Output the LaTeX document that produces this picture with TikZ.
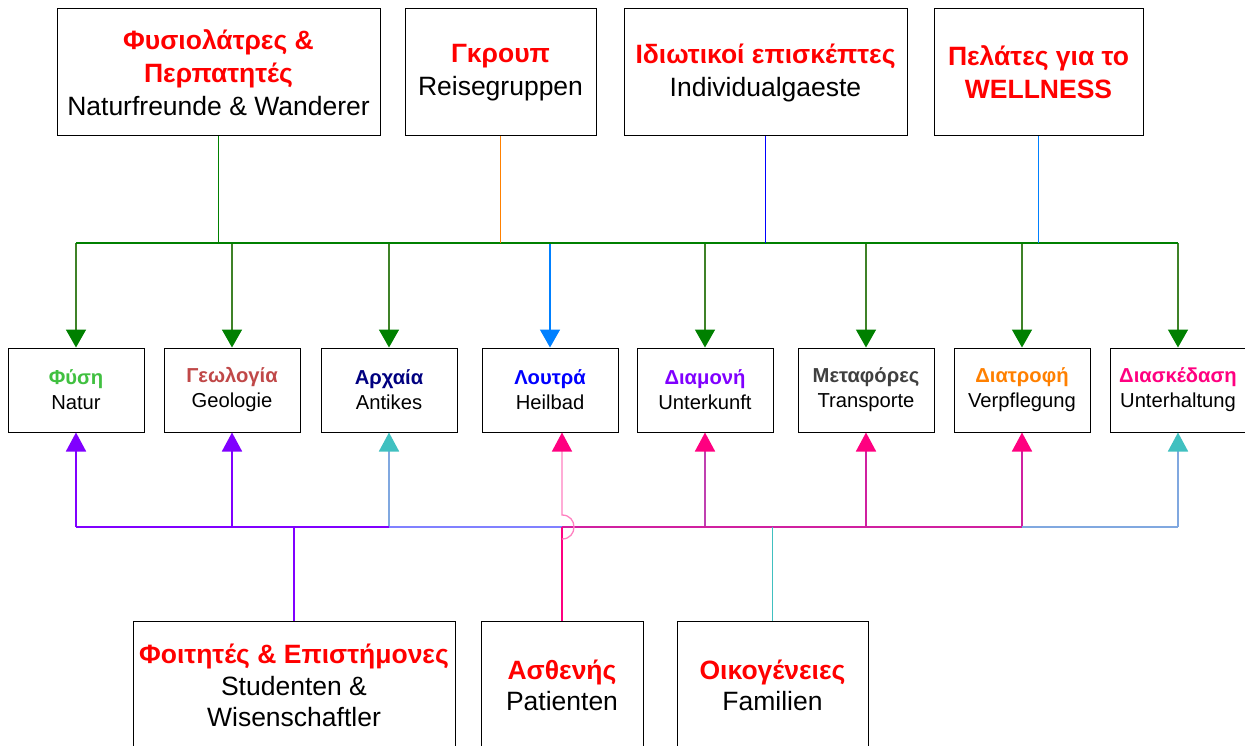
\documentclass[tikz,border=0pt]{standalone}
\usepackage{fontspec}
\setmainfont{Liberation Sans}
\usetikzlibrary{arrows.meta,calc}
\definecolor{cgreen}{HTML}{008000}
\definecolor{colive}{HTML}{3F8228}
\definecolor{corange}{HTML}{FF8000}
\definecolor{cblue}{HTML}{0000FF}
\definecolor{cazure}{HTML}{0080FF}
\definecolor{cred}{HTML}{FF0000}
\definecolor{cpurple}{HTML}{8000FF}
\definecolor{cpink}{HTML}{FF0080}
\definecolor{clpink}{HTML}{FF80C0}
\definecolor{cmag}{HTML}{D020A0}
\definecolor{cmauve}{HTML}{C040B0}
\definecolor{ccyan}{HTML}{40C0C0}
\definecolor{clav}{HTML}{8080FF}
\definecolor{clblue}{HTML}{80A8E0}
\definecolor{cnatur}{HTML}{40C040}
\definecolor{cgeo}{HTML}{C04848}
\definecolor{cnavy}{HTML}{000080}
\definecolor{cgrey}{HTML}{404040}
\begin{document}
\begin{tikzpicture}[x=1pt,y=-1pt,
  box/.style={draw=black, line width=1pt, fill=white, align=center, inner sep=0pt},
  topbox/.style={box, minimum height=127pt, font=\fontsize{26.5}{33}\selectfont},
  midbox/.style={box, minimum width=136pt, minimum height=84pt, font=\fontsize{20.2}{25}\selectfont},
  botbox/.style={box, minimum height=129pt, font=\fontsize{26.5}{31.5}\selectfont},
  conn/.style={line width=1.7pt},
  bus/.style={line width=2.1pt},
  downtip/.style={-{Triangle[width=20pt,length=18pt,color=#1]}},
  uptip/.style={-{Triangle[width=20pt,length=19pt,color=#1]}}
]
\useasboundingbox (0,0) rectangle (1245,746);

% top boxes
\node[topbox, minimum width=323pt] (t1) at (218.5,72.5)
  {\textcolor{cred}{\bfseries Φυσιολάτρες \&}\\\textcolor{cred}{\bfseries Περπατητές}\\Naturfreunde \& Wanderer};
\node[topbox, minimum width=191pt] (t2) at (500.5,72.5)
  {\textcolor{cred}{\bfseries Γκρουπ}\\Reisegruppen};
\node[topbox, minimum width=283pt] (t3) at (765.5,72.5)
  {\textcolor{cred}{\bfseries Ιδιωτικοί επισκέπτες}\\Individualgaeste};
\node[topbox, minimum width=209pt] (t4) at (1038.5,72.5)
  {\textcolor{cred}{\bfseries Πελάτες για το}\\\textcolor{cred}{\bfseries WELLNESS}};

% middle boxes
\node[midbox] (m1) at (76,390) {\textcolor{cnatur}{\bfseries Φύση}\\Natur};
\node[midbox] (m2) at (232,390) {\textcolor{cgeo}{\bfseries Γεωλογία}\\Geologie};
\node[midbox] (m3) at (389,390) {\textcolor{cnavy}{\bfseries Αρχαία}\\Antikes};
\node[midbox] (m4) at (550,390) {\textcolor{cblue}{\bfseries Λουτρά}\\Heilbad};
\node[midbox] (m5) at (705,390) {\textcolor{cpurple}{\bfseries Διαμονή}\\Unterkunft};
\node[midbox] (m6) at (866,390) {\textcolor{cgrey}{\bfseries Μεταφόρες}\\Transporte};
\node[midbox] (m7) at (1022,390) {\textcolor{corange}{\bfseries Διατροφή}\\Verpflegung};
\node[midbox] (m8) at (1178,390) {\textcolor{cpink}{\bfseries Διασκέδαση}\\Unterhaltung};

% bottom boxes
\node[botbox, minimum width=322pt] (b1) at (294,685.5)
  {\textcolor{cred}{\bfseries Φοιτητές \& Επιστήμονες}\\Studenten \&\\Wisenschaftler};
\node[botbox, minimum width=162pt] (b2) at (562,685.5)
  {\textcolor{cred}{\bfseries Ασθενής}\\Patienten};
\node[botbox, minimum width=191pt] (b3) at (772.5,685.5)
  {\textcolor{cred}{\bfseries Οικογένειες}\\Familien};

\coordinate (tb) at (0,243);
\coordinate (lb) at (0,527);
\coordinate (h4) at ([xshift=12pt]m4.south);

% top connectors
\foreach \m in {m1,m2,m3,m5,m6,m7,m8}
  \draw[conn, colive, downtip=cgreen] (\m.north |- tb) -- (\m.north);
\draw[conn, cazure, downtip=cazure] (m4.north |- tb) -- (m4.north);
\draw[bus, cgreen] (m1.north |- tb) -- (m8.north |- tb);
\draw[conn, cgreen] (t1.south) -- (t1.south |- tb);
\draw[conn, corange] (t2.south) -- (t2.south |- tb);
\draw[conn, cblue] (t3.south) -- (t3.south |- tb);
\draw[conn, cazure] (t4.south) -- (t4.south |- tb);

% bottom connectors
\draw[conn, cpurple, uptip=cpurple] (m1.south |- lb) -- (m1.south);
\draw[conn, cpurple, uptip=cpurple] (m2.south |- lb) -- (m2.south);
\draw[conn, clblue, uptip=ccyan] (m3.south |- lb) -- (m3.south);
\draw[conn, cmauve, uptip=cpink] (m5.south |- lb) -- (m5.south);
\draw[conn, cmag, uptip=cpink] (m6.south |- lb) -- (m6.south);
\draw[conn, cmag, uptip=cpink] (m7.south |- lb) -- (m7.south);
\draw[conn, clblue, uptip=ccyan] (m8.south |- lb) -- (m8.south);

\draw[bus, cpurple] (m1.south |- lb) -- (m3.south |- lb);
\draw[bus, clav] (m3.south |- lb) -- (h4 |- lb);
\draw[bus, cmag] (h4 |- lb) -- (m7.south |- lb);
\draw[bus, clblue] (m7.south |- lb) -- (m8.south |- lb);

\draw[conn, cpurple] (b1.north) -- (b1.north |- lb);
\draw[conn, cpink] (b2.north) -- (b2.north |- lb);
\draw[conn, ccyan] (b3.north) -- (b3.north |- lb);

\draw[line width=1.3pt, clpink, uptip=cpink]
  ($(h4 |- lb)+(0,12)$) .. controls ($(h4 |- lb)+(16,12)$) and ($(h4 |- lb)+(16,-12)$) .. ($(h4 |- lb)+(0,-12)$) -- (h4);
\end{tikzpicture}
\end{document}
